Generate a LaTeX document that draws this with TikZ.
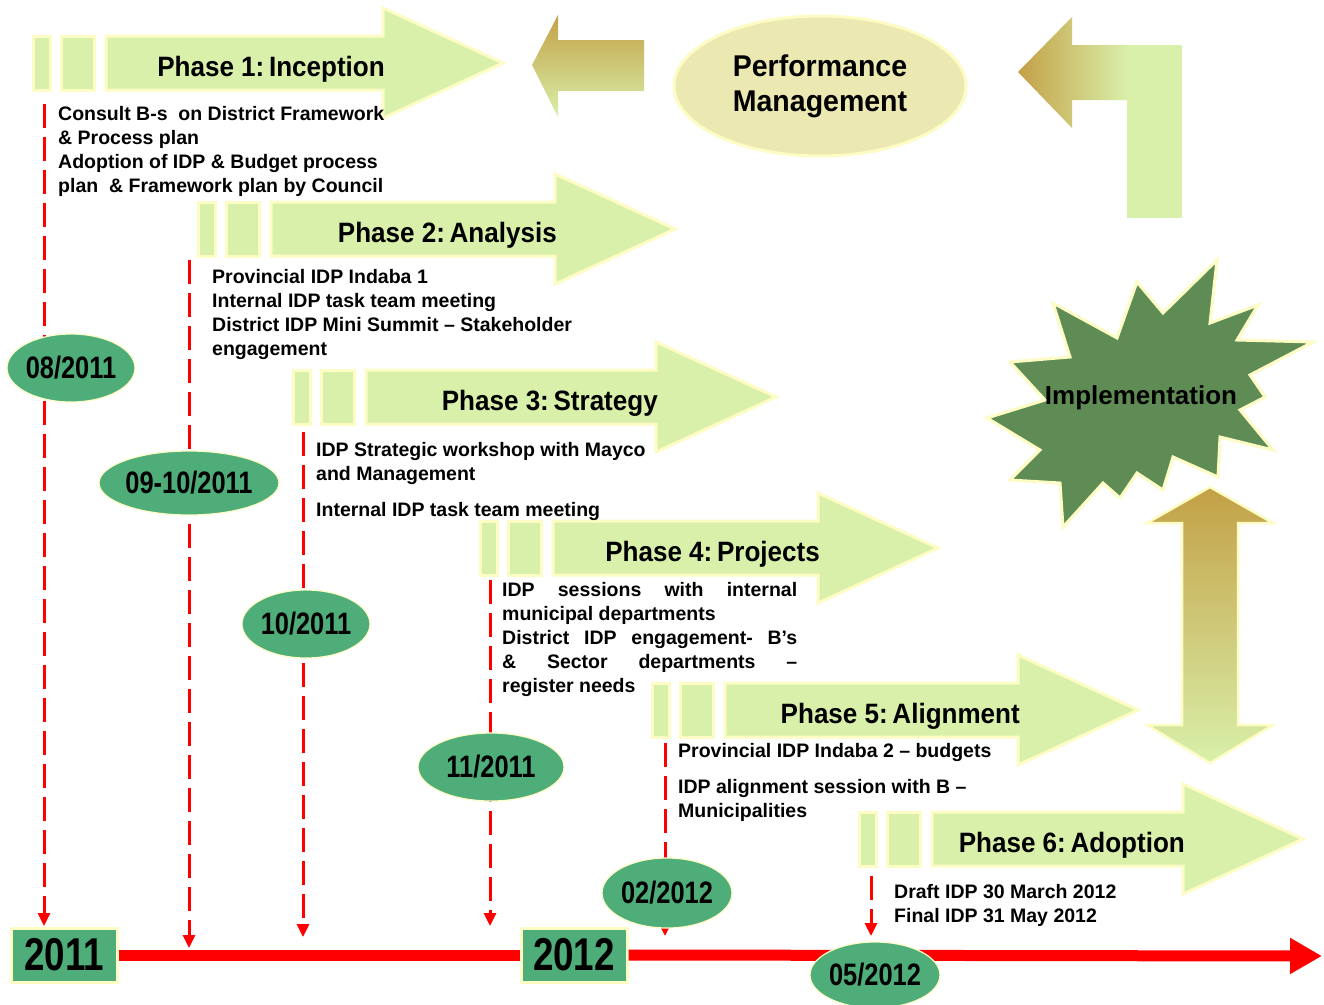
\documentclass[tikz,border=0pt]{standalone}
\usepackage{fontspec}
\setmainfont{Liberation Sans}
\newfontfamily\titlefont[FakeStretch=0.93]{Liberation Sans}
\newfontfamily\datefont[FakeStretch=0.82]{Liberation Sans}
\newfontfamily\yearfont[FakeStretch=0.8]{Liberation Sans}
\newfontfamily\pmfont[FakeStretch=0.95]{Liberation Sans}
\usetikzlibrary{shapes.geometric, arrows.meta}
\definecolor{phfill}{RGB}{217,240,170}
\definecolor{phedge}{RGB}{252,252,196}
\definecolor{dgreen}{RGB}{79,173,122}
\definecolor{stargreen}{RGB}{95,139,85}
\definecolor{goldc}{RGB}{195,160,70}
\definecolor{pmfill}{RGB}{236,232,178}
\definecolor{tred}{RGB}{255,0,0}
\tikzset{
  phshape/.style={fill=phfill, draw=phedge, line width=3pt, line join=miter},
  phtitle/.style={anchor=base east, inner sep=0pt, font=\fontsize{28}{32}\selectfont\titlefont\bfseries},
  bodytxt/.style={anchor=north west, inner sep=0pt, align=left, font=\fontsize{19.5}{24}\selectfont\bfseries},
  datebox/.style={ellipse, fill=dgreen, draw=phedge, line width=1.2pt, inner sep=0pt, font=\fontsize{31}{35}\selectfont\datefont\bfseries},
  yearbox/.style={rectangle, fill=dgreen, draw=phedge, line width=3pt, minimum width=106pt, minimum height=54pt, inner sep=0pt, font=\fontsize{46}{50}\selectfont\yearfont\bfseries},
  dashline/.style={draw=tred, line width=3pt, dash pattern=on 24pt off 9pt, -{Triangle[length=13pt,width=12pt]}},
  tline/.style={draw=tred, line width=11pt},
  pmell/.style={ellipse, fill=pmfill, draw=phedge, line width=3pt, minimum width=292pt, minimum height=140pt, inner sep=0pt, align=center, font=\fontsize{30}{35}\selectfont\pmfont\bfseries},
  starshape/.style={fill=stargreen, draw=phedge, line width=3pt, line join=miter},
}
\newcommand\phasearrow[5]{%
  \path[phshape] (#2,#3-27) rectangle ++(17,54);
  \path[phshape] (#2+28,#3-27) rectangle ++(33,54);
  \path[phshape] (#2+73,#3-27) -- (#4,#3-27) -- (#4,#3-55) -- (#4+120,#3) -- (#4,#3+55) -- (#4,#3+27) -- (#2+73,#3+27) -- cycle;
  \node[phtitle] (#1) at (#4+2,#3+13) {#5};
}
\begin{document}
\begin{tikzpicture}[x=1pt,y=-1pt]
\useasboundingbox (0,0) rectangle (1324,1004);
\fill[white] (0,0) rectangle (1324,1004);

% dashed milestone lines
\coordinate (s1) at (44,104);  \coordinate (e1) at (44,926);
\coordinate (s2) at (189,260); \coordinate (e2) at (189,948);
\coordinate (s3) at (303,432); \coordinate (e3) at (303,937);
\coordinate (s4) at (490,580); \coordinate (e4) at (490,926);
\coordinate (s5) at (665,743); \coordinate (e5) at (665,936);
\coordinate (s6) at (871,876); \coordinate (e6) at (871,936);
\foreach \i in {1,...,6} \draw[dashline] (s\i) -- (e\i);

% timeline
\node[yearbox] (y2011) at (64,955) {2011};
\node[yearbox] (y2012) at (574,955) {2012};
\coordinate (tlend) at (1322,956);
\draw[tline] (y2011.east) -- (y2012.west);
\draw[tline, -{Triangle[length=32pt,width=34pt]}] (y2012.east) -- (tlend);

% date ellipses
\node[datebox, minimum width=124pt, minimum height=68pt] (d1) at (71,368) {08/2011};
\node[datebox, minimum width=144pt, minimum height=64pt] (d2) at (189,483) {09-10/2011};
\node[datebox, minimum width=122pt, minimum height=68pt] (d3) at (306,624) {10/2011};
\node[datebox, minimum width=146pt, minimum height=68pt] (d4) at (491,767) {11/2011};
\node[datebox, minimum width=120pt, minimum height=70pt] (d5) at (667,893) {02/2012};
\node[datebox, minimum width=120pt, minimum height=66pt] (d6) at (875,975) {05/2012};

% phase arrows
\phasearrow{p1}{33}{63}{383}{Phase 1:\,Inception}
\phasearrow{p2}{198}{229}{555}{Phase 2:\,Analysis}
\phasearrow{p3}{293}{397}{656}{Phase 3:\,Strategy}
\phasearrow{p4}{480}{548}{818}{Phase 4:\,Projects}
\phasearrow{p5}{652}{710}{1018}{Phase 5:\,Alignment}
\phasearrow{p6}{859}{839}{1183}{Phase 6:\,Adoption}

% performance management cycle
\path[top color=goldc, bottom color=phfill] (532,65) -- (558,15) -- (558,40) -- (644,40) -- (644,91) -- (558,91) -- (558,117) -- cycle;
\node[pmell] (pm) at (820,86) {Performance\\Management};
\path[left color=goldc, right color=phfill] (1018,72) -- (1072,17) -- (1072,45) -- (1128,45) -- (1128,100) -- (1072,100) -- (1072,128) -- cycle;
\fill[phfill] (1127,45) rectangle (1182,218);

% implementation star
\path[starshape] (1010,362) -- (1070,357) -- (1053,303) -- (1117,338) -- (1137,282) -- (1163,313) -- (1217,260) -- (1210,323) -- (1258,305) -- (1237,340) -- (1313,342) -- (1250,375) -- (1265,397) -- (1240,410) -- (1273,450) -- (1220,437) -- (1218,477) -- (1173,457) -- (1163,490) -- (1137,473) -- (1120,498) -- (1103,483) -- (1063,527) -- (1060,483) -- (1010,480) -- (1040,450) -- (987,418) -- (1045,400) -- cycle;
\node[font=\fontsize{26}{30}\selectfont\bfseries, inner sep=0pt] (impl) at (1141,398) {Implementation};

% double arrow
\path[draw=phedge, line width=2.5pt, line join=miter, top color=goldc, middle color=goldc!55!phfill, bottom color=phfill] (1210,487) -- (1273,523) -- (1238,523) -- (1238,725) -- (1273,725) -- (1210,763) -- (1147,725) -- (1182,725) -- (1182,523) -- (1147,523) -- cycle;

% phase texts
\node[bodytxt] (t1) at (58,102) {\rule{0pt}{18pt}Consult B-s\ \ on District Framework\\ \& Process plan\\ Adoption of IDP \& Budget process\\ plan\ \ \& Framework plan by Council};
\node[bodytxt] (t2) at (212,265) {\rule{0pt}{18pt}Provincial IDP Indaba 1\\ Internal IDP task team meeting\\ District IDP Mini Summit – Stakeholder\\ engagement};
\node[bodytxt] (t3) at (316,438) {\rule{0pt}{18pt}IDP Strategic workshop with Mayco\\ and Management\\[12pt] Internal IDP task team meeting};
\node[bodytxt] (t4) at (502,578) {\rule{0pt}{18pt}\makebox[295pt][s]{IDP sessions with internal}\\ municipal departments\\ \makebox[295pt][s]{District IDP engagement- B’s}\\ \makebox[295pt][s]{\& Sector departments –}\\ register needs};
\node[bodytxt] (t5) at (678,739) {\rule{0pt}{18pt}Provincial IDP Indaba 2 – budgets\\[12pt] IDP alignment session with B –\\ Municipalities};
\node[bodytxt] (t6) at (894,880) {\rule{0pt}{18pt}Draft IDP 30 March 2012\\ Final IDP 31 May 2012};
\end{tikzpicture}
\end{document}
